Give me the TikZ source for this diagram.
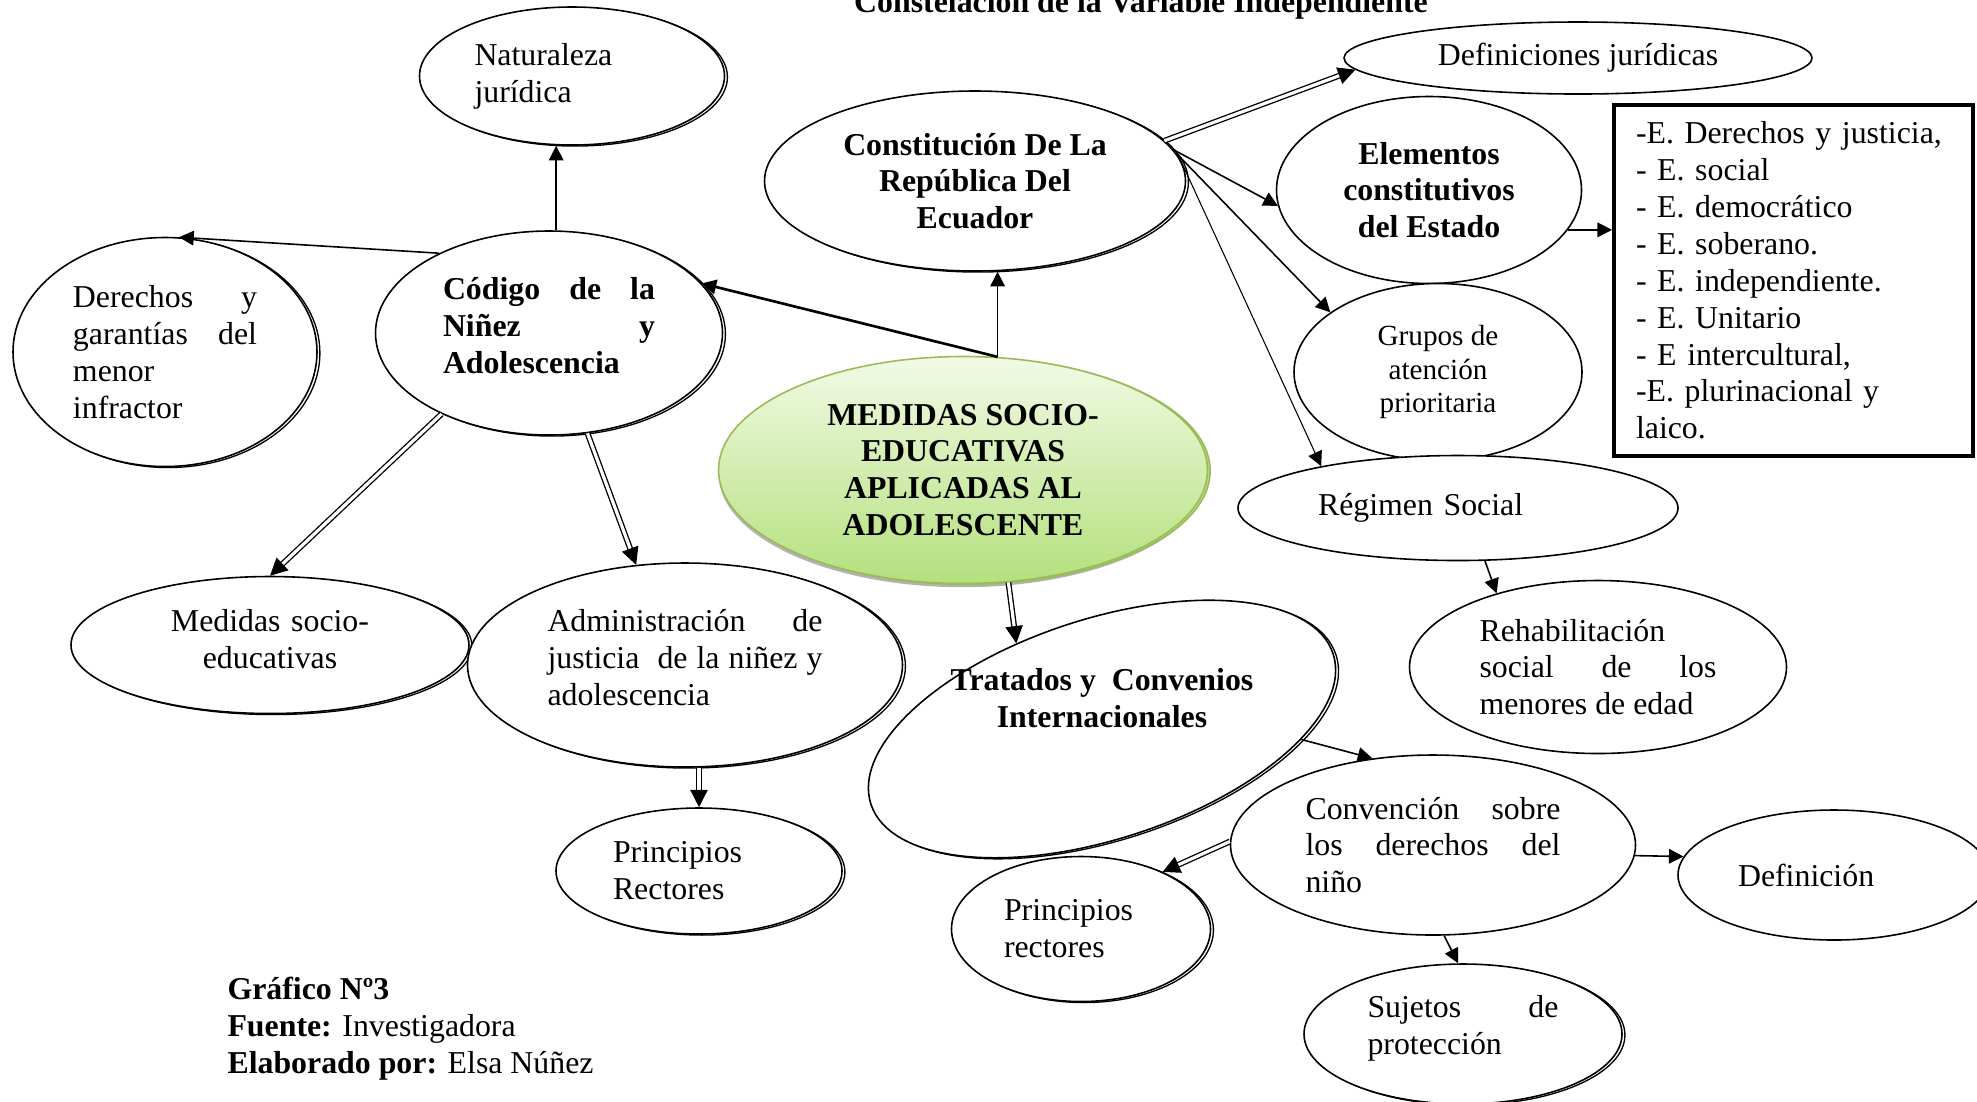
\documentclass[tikz,border=0pt]{standalone}
\usepackage{fontspec}
\setmainfont{Liberation Serif}
\usetikzlibrary{shapes.geometric,arrows.meta,shadows}

\newcommand\pxu{0.377pt}
\newcommand\txt{\fontsize{12}{13.9}\selectfont}
\definecolor{ogreen}{HTML}{9BBB59}
\definecolor{mtop}{HTML}{F2FAE6}
\definecolor{mbot}{HTML}{B4E07C}

\tikzset{
  ell/.style 2 args={ellipse, draw, fill=white, line width=0.6pt, inner sep=0pt,
    minimum width=#1*\pxu, minimum height=#2*\pxu, font=\txt},
  tw/.style={text width=#1*\pxu},
  bold/.style={font=\txt\bfseries},
  dbl/.style={drop shadow={shadow xshift=1.1pt, shadow yshift=-0.4pt,
    fill=white, draw=black, line width=0.5pt, opacity=1}},
  medstyle/.style={ellipse, draw=ogreen, line width=0.6pt, inner sep=0pt,
    top color=mtop, bottom color=mbot,
    drop shadow={shadow xshift=0pt, shadow yshift=-1.4pt, fill=gray!60, opacity=1},
    drop shadow={shadow xshift=1pt, shadow yshift=-0.3pt, draw=ogreen, fill=mbot, opacity=1},
    minimum width=489*\pxu, minimum height=227*\pxu, font=\txt\bfseries, align=center},
  arr/.style={-{Triangle[length=5.5pt,width=5.5pt]}, line width=0.6pt},
  thinarr/.style={arr, line width=0.4pt},
  dblarr/.style={-{Triangle[length=6.5pt,width=6.5pt]}, double, double distance=1.2pt, line width=0.5pt}
}

\begin{document}
\begin{tikzpicture}[x=0.377pt, y=-0.377pt]
    \useasboundingbox (0, 0) rectangle (1977, 1101);

    % Title
    \node[bold, anchor=base] (title) at (1141, 12) {Constelación de la Variable Independiente};

    % Central node
    \node[medstyle] (med) at (963, 470) {MEDIDAS SOCIO-\\ EDUCATIVAS\\ APLICADAS AL\\ ADOLESCENTE};

    % Codigo branch
    \node[ell={305}{138}, dbl, tw=195, align=left] (nat) at (572, 76) {Naturaleza\\ jurídica};
    \node[ell={347}{204}, dbl, bold, tw=212, align=justify] (cod) at (549, 333)
        {Código de la\linebreak Niñez y\linebreak Adolescencia\par\kern5.6pt};
    \node[ell={304}{229}, dbl, tw=184, align=justify] (der) at (165, 352)
        {Derechos y\linebreak garantías del\linebreak menor\newline infractor};
    \node[ell={398}{137}, dbl, tw=200, align=center] (mse) at (270, 645)
        {Medidas socio-\\ educativas\par\kern4.5pt};
    \node[ell={435}{204}, dbl, tw=275, align=justify] (adm) at (685, 665)
        {Administración de\linebreak justicia~ de la niñez y\linebreak adolescencia\par\kern5.6pt};
    \node[ell={286}{126}, dbl, tw=172, align=left] (pr1) at (699, 871) {Principios\\ Rectores};

    % Constitucion branch
    \node[ell={421}{180}, dbl, bold, align=center] (con) at (975, 181)
        {Constitución De La\\ República Del\\ Ecuador};
    \node[ell={468}{72}] (def) at (1578, 58) {Definiciones jurídicas};
    \node[ell={305}{187}, bold, align=center] (ele) at (1429, 190) {Elementos\\ constitutivos\\ del Estado};
    \node[draw, line width=1.5pt, minimum width=359*\pxu, minimum height=351*\pxu,
        inner xsep=22*\pxu, inner ysep=2pt, tw=315, align=left, font=\txt] (box) at (1793.5, 280.5)
        {-E. Derechos y justicia,\\ - E. social\\ - E. democrático\\ - E. soberano.\\
         - E. independiente.\\ - E. Unitario\\ - E intercultural,\\ -E. plurinacional y\\ laico.};
    \node[ell={288}{177}, align=center, font=\fontsize{11}{12.7}\selectfont] (gru) at (1438, 372)
        {Grupos de\\ atención\\ prioritaria};
    \node[ell={440}{105}, tw=280, align=left] (reg) at (1458, 508) {Régimen Social};
    \node[ell={377}{173}, tw=237, align=justify] (reh) at (1598, 667)
        {Rehabilitación\newline social de los\linebreak menores de edad};

    % Tratados branch
    \node[ell={486}{220}, dbl, rotate=18] (tra) at (1102, 729) {};
    \node[bold, align=center] (tratxt) at (1102, 698) {Tratados y~ Convenios\\ Internacionales};
    \node[ell={405}{180}, tw=255, align=justify] (cdn) at (1433, 845)
        {Convención sobre\linebreak los derechos del\linebreak niño};
    \node[ell={312}{130}, tw=192, align=left] (dfn) at (1834, 875) {Definición};
    \node[ell={259}{145}, dbl, tw=154, align=left] (pr2) at (1081, 929) {Principios\\ rectores};
    \node[ell={318}{140}, dbl, tw=191, align=justify] (suj) at (1463, 1034)
        {Sujetos de\linebreak protección\par\kern4.5pt};

    % Credits
    \node[font=\txt, align=left, anchor=north west, inner sep=0pt] (cred) at (227, 977)
        {\textbf{Gráfico Nº3}\\ \textbf{Fuente:} Investigadora\\ \textbf{Elaborado por:} Elsa Núñez};

    % Connectors
    \draw[arr] (cod.86) -- (cod.86 |- nat.south);
    \draw[arr] (cod.144) -- (der.83);
    \draw[arr, line width=1pt] (med.73) -- (cod.18);
    \draw[arr] (med.73) -- (med.73 |- con.south);
    \draw[dblarr] (cod.217) -- (mse.north);
    \draw[dblarr] (cod.291) -- (adm.116);
    \draw[dblarr] (adm.south -| pr1.north) -- (pr1.north);
    \draw[dblarr] (med.292) -- (tra.117);
    \draw[dblarr] (con.12) -- (def.183);
    \draw[arr] (con.9) -- (ele.186);
    \draw[arr] (con.8) -- (gru.151);
    \draw[thinarr] (con.6) -- (reg.163);
    \draw[arr] (ele.344) -- (ele.344 -| box.west);
    \draw[arr] (reg.297) -- (reh.144);
    \draw[arr] (tra.-21) -- (cdn.125);
    \draw[dblarr] (cdn.179) -- (pr2.35);
    \draw[arr] (cdn.357) -- (dfn.173);
    \draw[arr] (cdn.277) -- (suj.94);
\end{tikzpicture}
\end{document}
